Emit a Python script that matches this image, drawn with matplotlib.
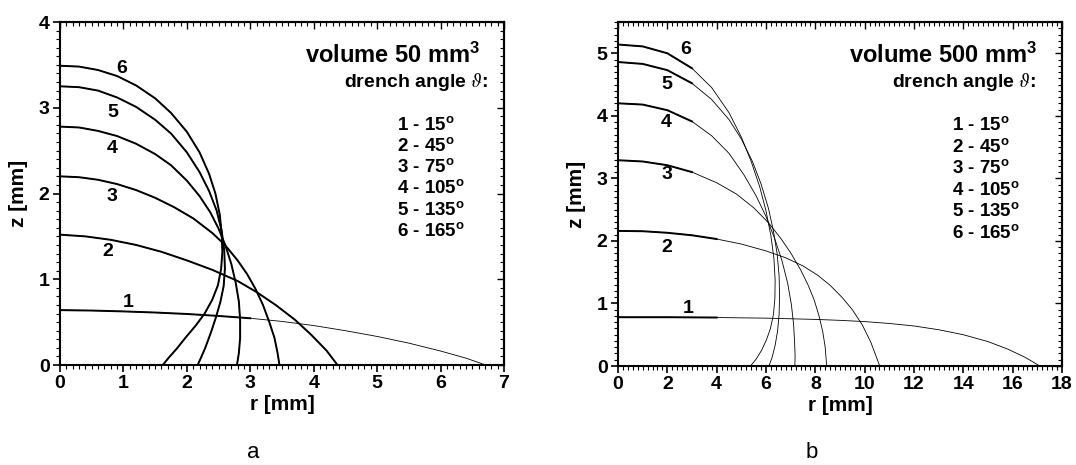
import matplotlib

matplotlib.use("Agg")
import matplotlib.pyplot as plt
from matplotlib.ticker import MultipleLocator, NullFormatter

plt.rcParams["font.family"] = ["Liberation Sans", "DejaVu Sans"]
plt.rcParams["mathtext.fontset"] = "custom"
plt.rcParams["mathtext.rm"] = "Liberation Sans"
plt.rcParams["mathtext.bf"] = "Liberation Sans:bold"
plt.rcParams["mathtext.it"] = "Liberation Sans:italic"

# drench (contact) angles, curve 1..6
ANGLES = [15, 45, 75, 105, 135, 165]
VOLUMES = [50, 500]

# panel a, volume 50 mm^3: drop profiles (r, z) in mm
A_R = [
    [0, 0.5, 1, 1.5, 2, 2.5, 3, 3.5, 4, 4.5, 5, 5.5, 6, 6.4, 6.71],
    [0, 0.4, 0.8, 1.2, 1.6, 2.0, 2.4, 2.8, 3.1, 3.4, 3.7, 3.95, 4.2, 4.375],
    [0, 0.3, 0.6, 0.9, 1.2, 1.5, 1.8, 2.1, 2.4, 2.6, 2.8, 2.95, 3.08, 3.2, 3.3, 3.38,
     3.43, 3.46],
    [0, 0.3, 0.6, 0.9, 1.2, 1.5, 1.75, 2.0, 2.2, 2.37, 2.5, 2.61, 2.70, 2.77, 2.82,
     2.84, 2.84, 2.82, 2.79],
    [0, 0.3, 0.6, 0.9, 1.2, 1.5, 1.75, 2.0, 2.2, 2.35, 2.47, 2.55, 2.59, 2.60, 2.58,
     2.53, 2.46, 2.38, 2.29, 2.22, 2.17],
    [0, 0.3, 0.6, 0.9, 1.2, 1.5, 1.75, 2.0, 2.2, 2.35, 2.45, 2.52, 2.55, 2.56, 2.54,
     2.49, 2.40, 2.28, 2.14, 1.98, 1.84, 1.72, 1.62],
]
A_Z = [
    [0.64, 0.635, 0.625, 0.612, 0.595, 0.572, 0.545, 0.508, 0.460, 0.400, 0.333,
     0.255, 0.163, 0.080, 0],
    [1.52, 1.50, 1.46, 1.40, 1.32, 1.22, 1.11, 0.98, 0.85, 0.70, 0.53, 0.36, 0.17, 0],
    [2.20, 2.19, 2.16, 2.11, 2.04, 1.95, 1.84, 1.71, 1.54, 1.40, 1.22, 1.06, 0.89,
     0.70, 0.50, 0.32, 0.14, 0],
    [2.78, 2.77, 2.73, 2.67, 2.58, 2.46, 2.33, 2.15, 1.97, 1.78, 1.59, 1.39, 1.18,
     0.96, 0.74, 0.52, 0.32, 0.14, 0],
    [3.25, 3.24, 3.20, 3.12, 3.01, 2.86, 2.70, 2.48, 2.25, 2.03, 1.80, 1.56, 1.33,
     1.12, 0.92, 0.74, 0.56, 0.38, 0.20, 0.08, 0],
    [3.49, 3.48, 3.44, 3.37, 3.26, 3.11, 2.94, 2.72, 2.48, 2.23, 2.00, 1.75, 1.52,
     1.32, 1.12, 0.93, 0.76, 0.60, 0.46, 0.32, 0.19, 0.09, 0],
]

# panel b, volume 500 mm^3
B_R = [
    [0, 2, 4, 6, 8, 9, 10, 11, 12, 13, 14, 15, 15.8, 16.5, 17.1],
    [0, 1, 2, 3, 4, 5, 6, 6.8, 7.5, 8.1, 8.6, 9.1, 9.5, 9.9, 10.25, 10.61],
    [0, 1, 2, 3, 4, 4.8, 5.5, 6.1, 6.6, 7.0, 7.4, 7.7, 7.95, 8.15, 8.3, 8.4, 8.46],
    [0, 1, 2, 3, 3.8, 4.5, 5.1, 5.6, 6.0, 6.35, 6.65, 6.88, 7.03, 7.12, 7.16, 7.18, 7.17],
    [0, 1, 2, 3, 3.8, 4.5, 5.0, 5.45, 5.8, 6.1, 6.3, 6.45, 6.53, 6.55, 6.53, 6.47,
     6.37, 6.25, 6.12],
    [0, 1, 2, 3, 3.8, 4.5, 5.0, 5.4, 5.75, 6.0, 6.2, 6.32, 6.37, 6.36, 6.30, 6.18,
     6.02, 5.82, 5.60, 5.37],
]
B_Z = [
    [0.78, 0.78, 0.775, 0.765, 0.745, 0.73, 0.71, 0.68, 0.64, 0.58, 0.50, 0.39, 0.27,
     0.14, 0],
    [2.16, 2.155, 2.13, 2.09, 2.03, 1.95, 1.84, 1.73, 1.60, 1.45, 1.29, 1.09, 0.90,
     0.66, 0.38, 0],
    [3.29, 3.27, 3.21, 3.10, 2.93, 2.75, 2.53, 2.29, 2.04, 1.81, 1.54, 1.30, 1.06,
     0.80, 0.55, 0.30, 0],
    [4.20, 4.18, 4.09, 3.91, 3.68, 3.40, 3.06, 2.72, 2.39, 2.04, 1.68, 1.32, 0.98,
     0.66, 0.38, 0.16, 0],
    [4.86, 4.83, 4.73, 4.52, 4.26, 3.94, 3.63, 3.27, 2.91, 2.52, 2.16, 1.80, 1.45,
     1.12, 0.82, 0.56, 0.33, 0.14, 0],
    [5.14, 5.11, 5.00, 4.76, 4.45, 4.05, 3.66, 3.27, 2.86, 2.48, 2.08, 1.72, 1.38,
     1.08, 0.82, 0.60, 0.42, 0.25, 0.11, 0],
]

# where the curve numbers sit (data coords)
A_LABEL_POS = [(1.07, 0.73), (0.76, 1.32), (0.82, 1.96), (0.82, 2.53), (0.84, 2.95), (0.97, 3.46)]
B_LABEL_POS = [(2.85, 0.92), (1.99, 1.90), (1.99, 3.06), (1.95, 3.89), (1.99, 4.50), (2.75, 5.06)]

# line drawn heavy up to this radius, thin beyond
A_THICK_TO = [3.2, 99, 99, 99, 99, 99]
B_THICK_TO = [5.2, 4.0, 3.0, 3.0, 3.0, 3.0]


def draw_profile(ax, r, z, thick_to, lw_thick, lw_thin):
    ax.plot(r, z, color="black", lw=lw_thin, solid_joinstyle="round", zorder=3)
    k = 0
    while k < len(r) and r[k] <= thick_to:
        k += 1
    if k > 1:
        ax.plot(r[:k], z[:k], color="black", lw=lw_thick, solid_joinstyle="round", zorder=3)


def style_axes(ax, xmax, ymax, xmaj, xmin, ymaj, ymin):
    ax.set_xlim(0, xmax)
    ax.set_ylim(0, ymax)
    for sp in ax.spines.values():
        sp.set_linewidth(1.5)
    ax.xaxis.set_major_locator(MultipleLocator(xmaj))
    ax.xaxis.set_minor_locator(MultipleLocator(xmin))
    ax.yaxis.set_major_locator(MultipleLocator(ymaj))
    ax.yaxis.set_minor_locator(MultipleLocator(ymin))
    ax.tick_params(which="major", direction="out", length=5, width=1.2, labelsize=14, pad=2.5)
    ax.tick_params(which="minor", direction="out", length=3, width=0.8)
    for lab in ax.get_xticklabels() + ax.get_yticklabels():
        lab.set_fontweight("bold")

    # inward ticks on top and right
    top = ax.secondary_xaxis("top")
    top.xaxis.set_major_locator(MultipleLocator(xmaj))
    top.xaxis.set_minor_locator(MultipleLocator(xmin))
    top.xaxis.set_major_formatter(NullFormatter())
    top.tick_params(which="major", direction="in", length=5, width=1.0)
    top.tick_params(which="minor", direction="in", length=3, width=0.8)
    right = ax.secondary_yaxis("right")
    right.yaxis.set_major_locator(MultipleLocator(ymaj))
    right.yaxis.set_minor_locator(MultipleLocator(ymin))
    right.yaxis.set_major_formatter(NullFormatter())
    right.tick_params(which="major", direction="in", length=5, width=1.0)
    right.tick_params(which="minor", direction="in", length=3, width=0.8)
    for sec in (top, right):
        for sp in sec.spines.values():
            sp.set_linewidth(1.5)


def annotate(ax, volume, x_title, x_drench, x_list, y_step):
    ax.text(x_title, 0.902, f"volume {volume} mm$^\\mathbf{{3}}$", transform=ax.transAxes,
            ha="right", va="center", fontsize=17, fontweight="bold")
    ax.text(x_drench, 0.826, "drench angle $\\vartheta$:", transform=ax.transAxes,
            ha="right", va="center", fontsize=14, fontweight="bold", math_fontfamily="stix")
    for i, ang in enumerate(ANGLES):
        ax.text(x_list, 0.70 - i * y_step, f"{i + 1} - {ang}$^\\mathbf{{o}}$",
                transform=ax.transAxes, ha="left", va="center", fontsize=13.5,
                fontweight="bold")


fig = plt.figure(figsize=(10.76, 4.65), dpi=100)
ax_a = fig.add_axes([60 / 1076, 1 - 365 / 465, 444 / 1076, 343 / 465])
ax_b = fig.add_axes([618 / 1076, 1 - 366 / 465, 444 / 1076, 344 / 465])

for i in range(len(ANGLES)):
    draw_profile(ax_a, A_R[i], A_Z[i], A_THICK_TO[i], 1.4, 0.6)
    draw_profile(ax_b, B_R[i], B_Z[i], B_THICK_TO[i], 1.4, 0.6)
    ax_a.text(*A_LABEL_POS[i], str(i + 1), ha="center", va="center", fontsize=14, fontweight="bold")
    ax_b.text(*B_LABEL_POS[i], str(i + 1), ha="center", va="center", fontsize=14, fontweight="bold")

style_axes(ax_a, 7, 4, 1, 0.1, 1, 0.1)
style_axes(ax_b, 18, 5.5, 2, 0.2, 1, 0.1)

annotate(ax_a, VOLUMES[0], 0.946, 0.964, 0.759, 0.0618)
annotate(ax_b, VOLUMES[1], 0.944, 0.941, 0.752, 0.0625)

for ax in (ax_a, ax_b):
    ax.set_xlabel("r [mm]", fontsize=15, fontweight="bold")
    ax.set_ylabel("z [mm]", fontsize=15, fontweight="bold")
    ax.xaxis.set_label_coords(0.5, -0.088)
    ax.yaxis.set_label_coords(-0.072, 0.5)

fig.text(253 / 1076, 1 - 452 / 465, "a", ha="center", va="center", fontsize=16)
fig.text(812 / 1076, 1 - 452 / 465, "b", ha="center", va="center", fontsize=16)

fig.savefig("out.png", dpi=100)
